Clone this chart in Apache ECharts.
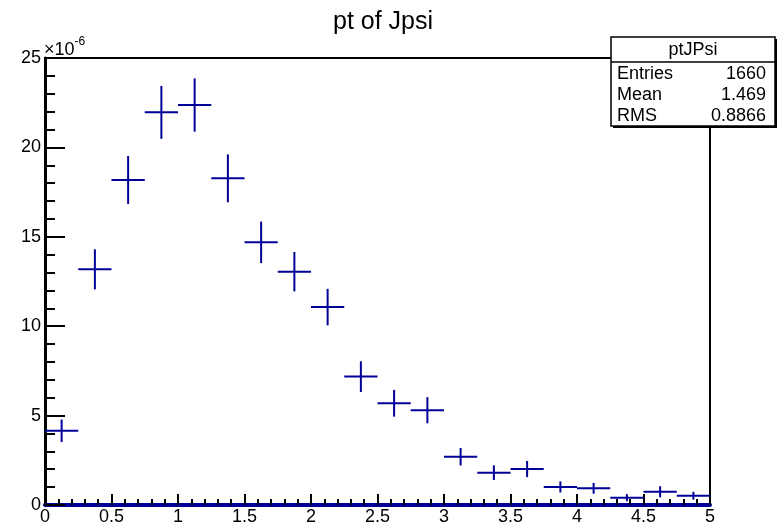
<!DOCTYPE html>
<html>
<head>
<meta charset="utf-8">
<title>pt of Jpsi</title>
<script src="https://cdn.jsdelivr.net/npm/echarts@6/dist/echarts.min.js"></script>
<style>
  html, body { margin: 0; padding: 0; background: #fff; }
  #chart { width: 780px; height: 528px; }
</style>
</head>
<body>
<div id="chart"></div>
<script>
// histogram bins (pt), contents in units of 1e-6, and their errors
const binWidth = 0.25;
const binCenters = [0.125, 0.375, 0.625, 0.875, 1.125, 1.375, 1.625, 1.875, 2.125, 2.375,
                    2.625, 2.875, 3.125, 3.375, 3.625, 3.875, 4.125, 4.375, 4.625, 4.875];
const binValues = [4.15, 13.18, 18.18, 21.96, 22.37, 18.27, 14.69, 13.05, 11.07, 7.18,
                   5.69, 5.30, 2.70, 1.81, 2.01, 1.01, 0.93, 0.41, 0.74, 0.52];
const binErrors = [0.63, 1.12, 1.34, 1.48, 1.49, 1.34, 1.16, 1.10, 1.02, 0.86,
                   0.75, 0.73, 0.49, 0.41, 0.45, 0.31, 0.30, 0.20, 0.31, 0.22];

const statTitle = 'ptJPsi';
const statLabels = ['Entries', 'Mean', 'RMS'];
const statValues = ['1660', '1.469', '0.8866'];

const histColor = '#000099';
const fontFamily = '"Liberation Sans", Arial, Helvetica, sans-serif';

const chart = echarts.init(document.getElementById('chart'));

// error cross: horizontal = bin width, vertical = +/- error
function renderCross(params, api) {
  const x = api.value(0), y = api.value(1), e = api.value(2);
  const l = api.coord([x - binWidth / 2, y]);
  const r = api.coord([x + binWidth / 2, y]);
  const t = api.coord([x, y + e]);
  const b = api.coord([x, y - e]);
  const style = { stroke: histColor, lineWidth: 2 };
  return {
    type: 'group',
    children: [
      { type: 'line', shape: { x1: l[0], y1: l[1], x2: r[0], y2: r[1] }, style },
      { type: 'line', shape: { x1: t[0], y1: t[1], x2: b[0], y2: b[1] }, style }
    ]
  };
}

// stats box
const boxX = 611, boxY = 37, boxW = 164, boxH = 89, headH = 25, rowH = 21;
const statFont = '18px ' + fontFamily;
const statChildren = [
  { type: 'rect', shape: { x: boxX + 2, y: boxY + 2, width: boxW, height: boxH }, style: { fill: '#000' } },
  { type: 'rect', shape: { x: boxX, y: boxY, width: boxW, height: boxH }, style: { fill: '#fff', stroke: '#000', lineWidth: 1.5 } },
  { type: 'line', shape: { x1: boxX, y1: boxY + headH, x2: boxX + boxW, y2: boxY + headH }, style: { stroke: '#000', lineWidth: 1.5 } },
  { type: 'text', x: boxX + boxW / 2, y: boxY + headH / 2 + 1,
    style: { text: statTitle, font: statFont, fill: '#000', align: 'center', verticalAlign: 'middle' } }
];
statLabels.forEach((lab, i) => {
  const cy = boxY + headH + 12 + i * rowH;
  statChildren.push({ type: 'text', x: boxX + 6, y: cy,
    style: { text: lab, font: statFont, fill: '#000', align: 'left', verticalAlign: 'middle' } });
  statChildren.push({ type: 'text', x: boxX + boxW - 9, y: cy,
    style: { text: statValues[i], font: statFont, fill: '#000', align: 'right', verticalAlign: 'middle' } });
});

const option = {
  animation: false,
  backgroundColor: '#fff',
  title: {
    text: 'pt of Jpsi',
    left: 378,
    top: 5,
    textAlign: 'center',
    textStyle: { fontFamily, fontSize: 25, fontWeight: 'normal', color: '#000' }
  },
  grid: {
    left: 45, right: 70, top: 58, bottom: 23,
    show: true, borderColor: '#000', borderWidth: 2, backgroundColor: 'transparent'
  },
  xAxis: {
    type: 'value',
    min: 0, max: 5, interval: 0.5,
    axisLine: { show: true, onZero: false, lineStyle: { color: histColor, width: 4 } },
    axisTick: { show: true, inside: true, length: 11, lineStyle: { color: '#000', width: 2 } },
    minorTick: { show: true, splitNumber: 5, length: 6, lineStyle: { color: '#000', width: 2 } },
    splitLine: { show: false },
    axisLabel: { color: '#000', fontFamily, fontSize: 18, margin: 3 }
  },
  yAxis: {
    type: 'value',
    min: 0, max: 25, interval: 5,
    axisLine: { show: true, lineStyle: { color: '#000', width: 3 } },
    axisTick: { show: true, inside: true, length: 20, lineStyle: { color: '#000', width: 2 } },
    minorTick: { show: true, splitNumber: 5, length: 10, lineStyle: { color: '#000', width: 2 } },
    splitLine: { show: false },
    axisLabel: { color: '#000', fontFamily, fontSize: 18, margin: 4 }
  },
  graphic: [
    {
      type: 'text', left: 44, top: 36, z: 10,
      style: {
        text: '{b|×10}{s|-6}',
        rich: {
          b: { font: '18px ' + fontFamily, fill: '#000', verticalAlign: 'bottom' },
          s: { font: '12px ' + fontFamily, fill: '#000', padding: [0, 0, 11, 0] }
        }
      }
    },
    { type: 'group', z: 20, children: statChildren }
  ],
  series: [{
    type: 'custom',
    clip: false,
    renderItem: renderCross,
    data: binCenters.map((x, i) => [x, binValues[i], binErrors[i]]),
    z: 5
  }]
};

chart.setOption(option);
</script>
</body>
</html>
